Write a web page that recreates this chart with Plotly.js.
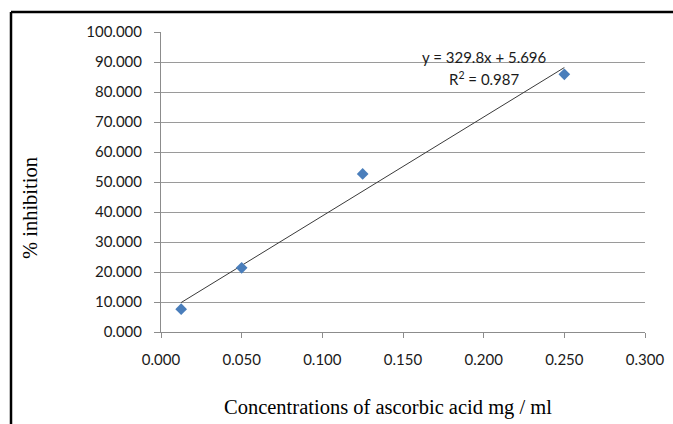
<!DOCTYPE html>
<html>
<head>
<meta charset="utf-8">
<script src="https://cdn.plot.ly/plotly-3.0.1.min.js"></script>
<style>
  html, body { margin: 0; padding: 0; background: #fff; }
  #chart { width: 673px; height: 424px; }
</style>
</head>
<body>
<div id="chart"></div>
<script>
// Ascorbic acid concentrations (mg/ml) and measured % inhibition
const concentrations = [0.0125, 0.05, 0.125, 0.25];
const inhibition = [7.6, 21.4, 52.7, 85.9];

// Linear trendline parameters as reported on the chart
const slope = 329.8;
const intercept = 5.696;
const rSquared = 0.987;

const xTickVals = [0, 0.05, 0.1, 0.15, 0.2, 0.25, 0.3];
const yTickVals = [0, 10, 20, 30, 40, 50, 60, 70, 80, 90, 100];

const xMin = Math.min(...concentrations);
const xMax = Math.max(...concentrations);
const trendX = [xMin, xMax];
const trendY = trendX.map(x => slope * x + intercept);

const tickFont = { family: 'Lato, "Open Sans", sans-serif', size: 15, color: '#1a1a1a' };
const titleFont = { family: '"Liberation Serif", "Times New Roman", serif', size: 20.5, color: '#000' };

const traces = [
  {
    x: trendX, y: trendY, type: 'scatter', mode: 'lines',
    line: { color: '#3a3a3a', width: 1 }, hoverinfo: 'skip', showlegend: false
  },
  {
    x: concentrations, y: inhibition, type: 'scatter', mode: 'markers',
    marker: { symbol: 'diamond', size: 9, color: '#4a7ebb' }, showlegend: false
  }
];

const layout = {
  width: 673, height: 424,
  margin: { l: 161, r: 28, t: 32, b: 92 },
  paper_bgcolor: '#ffffff', plot_bgcolor: '#ffffff',
  showlegend: false,
  xaxis: {
    range: [0, 0.3], tickvals: xTickVals, tickformat: '.3f',
    showgrid: false, zeroline: false,
    showline: true, linecolor: '#8c8c8c', linewidth: 1,
    ticks: 'outside', ticklen: 5, tickcolor: '#8c8c8c', tickwidth: 1,
    ticklabelstandoff: 9,
    tickfont: tickFont, fixedrange: true
  },
  yaxis: {
    range: [0, 100], tickvals: yTickVals, tickformat: '.3f',
    showgrid: true, gridcolor: '#9a9a9a', gridwidth: 1, zeroline: false,
    showline: true, linecolor: '#8c8c8c', linewidth: 1,
    ticks: 'outside', ticklen: 6, tickcolor: '#8c8c8c', tickwidth: 1,
    ticklabelstandoff: 9,
    tickfont: tickFont, fixedrange: true
  },
  annotations: [
    {
      xref: 'paper', yref: 'paper', x: (388 - 161) / 484, y: (332 - 407) / 300,
      text: 'Concentrations of ascorbic acid mg / ml', showarrow: false,
      font: titleFont, xanchor: 'center', yanchor: 'middle'
    },
    {
      xref: 'paper', yref: 'paper', x: (30 - 161) / 484, y: (332 - 208) / 300,
      text: '% inhibition', showarrow: false, textangle: -90,
      font: titleFont, xanchor: 'center', yanchor: 'middle'
    },
    {
      xref: 'paper', yref: 'paper', x: (484 - 161) / 484, y: (332 - 57) / 300,
      text: 'y = ' + slope + 'x + ' + intercept, showarrow: false,
      font: tickFont, xanchor: 'center', yanchor: 'middle'
    },
    {
      xref: 'paper', yref: 'paper', x: (484 - 161) / 484, y: (332 - 79) / 300,
      text: 'R<sup>2</sup> = ' + rSquared, showarrow: false,
      font: tickFont, xanchor: 'center', yanchor: 'middle'
    }
  ],
  shapes: [
    // frame lines along the top and left edges of the figure
    { type: 'line', xref: 'paper', yref: 'paper',
      x0: (11 - 161) / 484, x1: (673 - 161) / 484, y0: (332 - 12) / 300, y1: (332 - 12) / 300,
      line: { color: '#000', width: 2.5 } },
    { type: 'line', xref: 'paper', yref: 'paper',
      x0: (11 - 161) / 484, x1: (11 - 161) / 484, y0: (332 - 12) / 300, y1: (332 - 430) / 300,
      line: { color: '#000', width: 2.5 } }
  ]
};

Plotly.newPlot('chart', traces, layout, { staticPlot: true, displayModeBar: false });
</script>
</body>
</html>
